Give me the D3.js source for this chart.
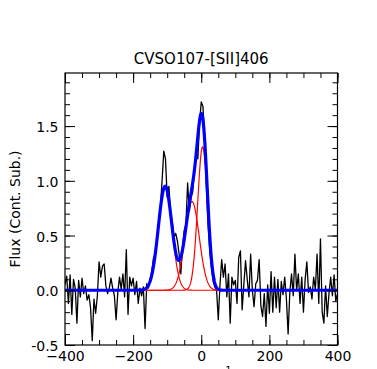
<!DOCTYPE html>
<html><head><meta charset="utf-8">
<script src="https://cdn.jsdelivr.net/npm/d3@7/dist/d3.min.js"></script>
<style>body{margin:0;background:#fff;} svg{display:block;} text{font-family:"DejaVu Sans",sans-serif;}</style>
</head><body>
<svg id="chart" width="377" height="369"></svg>
<script>
// ---- data ----
const title = "CVSO107-[SII]406";
const yLabel = "Flux (Cont. Sub.)";
const velStart = -400;
const velStep = 5;
const flux = [
 0.05, 0.13,-0.12, 0.14,-0.22, 0.10, 0.02,-0.30, 0.09,-0.06,
 0.11,-0.03, 0.04,-0.09,-0.04,-0.16,-0.46,-0.08,-0.21,-0.05,
 0.26, 0.12, 0.22, 0.24, 0.04,-0.03, 0.02, 0.11, 0.02,-0.05,
-0.27,-0.02, 0.12, 0.01, 0.15,-0.06, 0.37,-0.22, 0.12, 0.04,
 0.11,-0.04, 0.08,-0.12, 0.02,-0.05, 0.03,-0.35, 0.06, 0.02,
 0.10, 0.18, 0.30, 0.33, 0.46, 0.61, 0.76, 1.00, 1.27, 1.20,
 0.85, 0.95, 0.70, 0.62, 0.49, 0.52, 0.45, 0.33, 0.15, 0.40,
 0.55, 0.60, 0.98, 0.72, 0.85, 0.90, 1.12, 1.25, 1.20, 1.53,
 1.72, 1.68, 1.37, 0.95, 0.60, 0.35, 0.20, 0.08, 0.03, 0.00,
-0.27, 0.05, 0.28, 0.12, 0.24,-0.06, 0.15,-0.30, 0.12, 0.05,
 0.09,-0.12, 0.30, 0.36,-0.18, 0.05, 0.27, 0.10,-0.06, 0.33,
 0.00,-0.15, 0.06, 0.09, 0.28,-0.14,-0.24,-0.03,-0.33, 0.05,
-0.21, 0.17,-0.20, 0.12,-0.16, 0.10,-0.20, 0.08,-0.04, 0.12,
-0.08,-0.40,-0.02, 0.15,-0.05, 0.33, 0.00, 0.15,-0.12, 0.12,
-0.20, 0.10, 0.26,-0.02, 0.03,-0.08, 0.12, 0.01, 0.33,-0.12,
 0.47,-0.20,-0.30, 0.04,-0.24,-0.03, 0.12,-0.05, 0.14,-0.10,
-0.03
];
// Gaussian fit components (center km/s, amplitude, sigma km/s)
const compCenters = [-106, -27, 4];
const compAmps = [0.95, 0.81, 1.31];
const compSigmas = [20, 21, 14.5];
const xTicks = [-400, -200, 0, 200, 400];
const yTicks = [-0.5, 0.0, 0.5, 1.0, 1.5];
const xDomain = [-400, 400];
const yDomain = [-0.5, 1.985];

// ---- layout ----
const svg = d3.select("#chart");
const L = 65, R = 337.5, T = 73, B = 345;
const x = d3.scaleLinear().domain(xDomain).range([L, R]);
const y = d3.scaleLinear().domain(yDomain).range([B, T]);

const velocities = flux.map((_, i) => velStart + velStep * i);
const gauss = (v, k) => compAmps[k] * Math.exp(-((v - compCenters[k]) ** 2) / (2 * compSigmas[k] ** 2));
const fine = d3.range(xDomain[0], xDomain[1] + 0.5, 1);

svg.append("defs").append("clipPath").attr("id", "clip")
  .append("rect").attr("x", L).attr("y", T).attr("width", R - L).attr("height", B - T);

const g = svg.append("g").attr("clip-path", "url(#clip)");
const line = d3.line().x(d => x(d[0])).y(d => y(d[1]));

g.append("path").datum(velocities.map((v, i) => [v, flux[i]]))
  .attr("d", line).attr("fill", "none").attr("stroke", "#000").attr("stroke-width", 1.3)
  .attr("stroke-linejoin", "round");

compCenters.forEach((c, k) => {
  g.append("path").datum(fine.map(v => [v, gauss(v, k)]))
    .attr("d", line).attr("fill", "none").attr("stroke", "#ff0000").attr("stroke-width", 1.2);
});

g.append("path").datum(fine.map(v => [v, compCenters.reduce((s, _, k) => s + gauss(v, k), 0)]))
  .attr("d", line).attr("fill", "none").attr("stroke", "#0000ff").attr("stroke-width", 3.2)
  .attr("stroke-linejoin", "round");

// ---- axes ----
const xMinor = d3.range(-400, 401, 50);
const yMinor = d3.range(-5, 20).map(i => i / 10);
function styleAxis(sel) {
  sel.select(".domain").remove();
  sel.selectAll("line").attr("stroke", "#000").attr("stroke-width", 1);
  sel.selectAll("text").attr("font-size", 14).attr("fill", "#000").attr("font-family", "DejaVu Sans");
}
const fmtY = d => d.toFixed(1);
svg.append("g").attr("transform", `translate(0,${B})`)
  .call(d3.axisBottom(x).tickValues(xTicks).tickSize(-10).tickPadding(6).tickFormat(d3.format("d"))).call(styleAxis);
svg.append("g").attr("transform", `translate(0,${B})`)
  .call(d3.axisBottom(x).tickValues(xMinor).tickSize(-5).tickFormat("")).call(styleAxis);
svg.append("g").attr("transform", `translate(0,${T})`)
  .call(d3.axisTop(x).tickValues(xTicks).tickSize(-10).tickFormat("")).call(styleAxis);
svg.append("g").attr("transform", `translate(0,${T})`)
  .call(d3.axisTop(x).tickValues(xMinor).tickSize(-5).tickFormat("")).call(styleAxis);
const yl = svg.append("g").attr("transform", `translate(${L},0)`)
  .call(d3.axisLeft(y).tickValues(yTicks).tickSize(-10).tickPadding(6.5).tickFormat(fmtY)).call(styleAxis);
yl.selectAll("text").attr("dy", "0.4em");
svg.append("g").attr("transform", `translate(${L},0)`)
  .call(d3.axisLeft(y).tickValues(yMinor).tickSize(-5).tickFormat("")).call(styleAxis);
svg.append("g").attr("transform", `translate(${R},0)`)
  .call(d3.axisRight(y).tickValues(yTicks).tickSize(-10).tickFormat("")).call(styleAxis);
svg.append("g").attr("transform", `translate(${R},0)`)
  .call(d3.axisRight(y).tickValues(yMinor).tickSize(-5).tickFormat("")).call(styleAxis);

svg.append("rect").attr("x", L).attr("y", T).attr("width", R - L).attr("height", B - T)
  .attr("fill", "none").attr("stroke", "#000").attr("stroke-width", 1.2);

// ---- labels ----
svg.append("text").attr("x", (L + R) / 2).attr("y", 63.5).attr("text-anchor", "middle")
  .attr("font-size", 15).attr("fill", "#000").text(title);
svg.append("text").attr("transform", `translate(20,${(T + B) / 2}) rotate(-90)`)
  .attr("text-anchor", "middle").attr("font-size", 14).attr("fill", "#000").text(yLabel);
const xl = svg.append("text").attr("x", (L + R) / 2).attr("y", 381).attr("text-anchor", "middle")
  .attr("font-size", 14).attr("fill", "#000");
xl.append("tspan").text("v (km s");
xl.append("tspan").attr("dy", -7).attr("font-size", 10).text("\u22121");
xl.append("tspan").attr("dy", 7).text(")");
</script>
</body></html>
